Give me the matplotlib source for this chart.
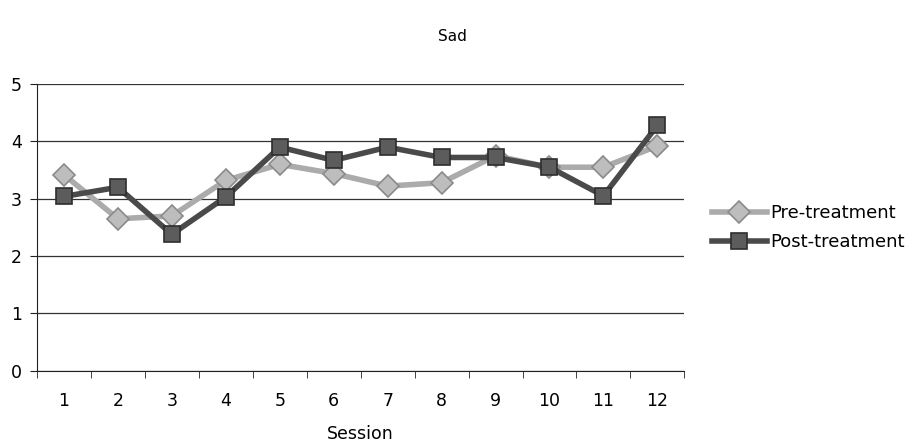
import numpy as np
import matplotlib.pyplot as plt

sessions = ['1', '2', '3', '4', '5', '6', '7', '8', '9', '10', '11', '12']
pre = [3.42, 2.65, 2.7, 3.32, 3.6, 3.44, 3.22, 3.28, 3.75, 3.55, 3.55, 3.92]
post = [3.04, 3.2, 2.38, 3.03, 3.9, 3.67, 3.9, 3.72, 3.72, 3.55, 3.05, 4.28]

fig = plt.figure(figsize=(9.17, 4.45), dpi=100)
ax = fig.add_axes([0.0403, 0.167, 0.706, 0.644])

x = np.arange(len(sessions))
ax.plot(x, pre, color='#ababab', lw=4, marker='D', ms=11, mfc='#bdbdbd', mec='#8a8a8a',
        mew=1.2, zorder=3, label='Pre-treatment')
ax.plot(x, post, color='#4a4a4a', lw=4, marker='s', ms=12, mfc='#5c5c5c', mec='#2e2e2e',
        mew=1.2, zorder=4, label='Post-treatment')

ax.set_xlim(-0.5, len(sessions) - 0.5)
ax.set_ylim(0, 5)
ax.set_yticks([0, 1, 2, 3, 4, 5])
ax.set_xticks(x)
ax.set_xticklabels(sessions)
ax.set_xticks(np.arange(-0.5, len(sessions)), minor=True)
ax.tick_params(axis='x', which='major', length=0, pad=15, labelsize=12.5)
ax.tick_params(axis='x', which='minor', length=5, direction='out', color='#222222')
ax.tick_params(axis='y', length=5, direction='out', labelsize=12.5, pad=6, color='#222222')
ax.grid(axis='y', color='#333333', lw=0.9)
ax.set_axisbelow(True)
for s in ['top', 'right']:
    ax.spines[s].set_visible(False)
ax.spines['left'].set_color('#222222')
ax.spines['bottom'].set_color('#222222')

ax.set_xlabel('Session', fontsize=12.5, labelpad=11)
fig.text(0.493, 0.917, 'Sad', ha='center', va='center', fontsize=11)

fig.legend(loc='center left', bbox_to_anchor=(0.769, 0.488), frameon=False,
           fontsize=13, handlelength=3.0, handletextpad=0.2, labelspacing=0.6,
           borderaxespad=0)

fig.savefig('out.png', dpi=100)
